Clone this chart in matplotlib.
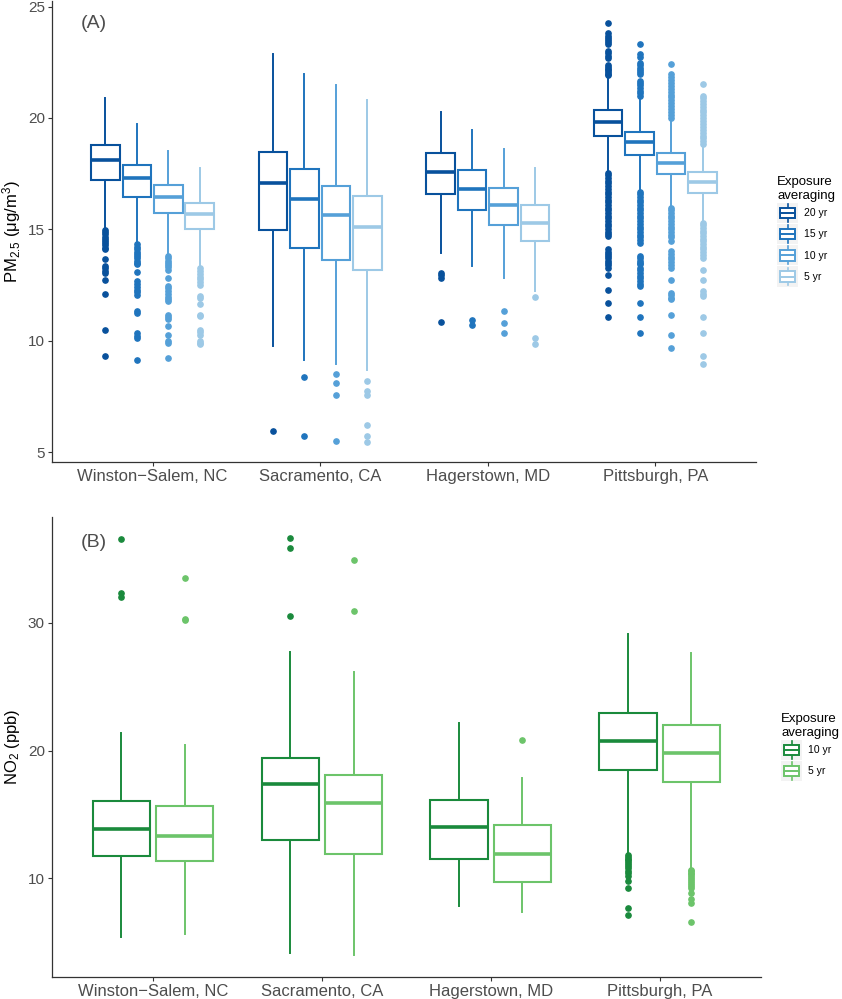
import matplotlib
matplotlib.use("Agg")
import matplotlib.pyplot as plt
from matplotlib.patches import Patch, Rectangle
from matplotlib.lines import Line2D
from matplotlib.legend_handler import HandlerBase

plt.rcParams['font.family'] = ['Liberation Sans', 'DejaVu Sans']
plt.rcParams['mathtext.fontset'] = 'custom'
plt.rcParams['mathtext.rm'] = 'Liberation Sans'
plt.rcParams['mathtext.it'] = 'Liberation Sans:italic'

# ---- data ----
cities = ["Winston\u2212Salem, NC", "Sacramento, CA", "Hagerstown, MD", "Pittsburgh, PA"]

# panel A: PM2.5, rows = 20 yr, 15 yr, 10 yr, 5 yr ; columns = cities
pm_periods = ["20 yr", "15 yr", "10 yr", "5 yr"]
pm_colors = ["#08519C", "#1F74BD", "#55A0D8", "#9DC9E6"]
pm_whishi = [[20.91, 22.89, 20.27, 21.85],
             [19.72, 21.99, 19.45, 20.95],
             [18.52, 21.48, 18.59, 19.95],
             [17.77, 20.82, 17.77, 18.75]]
pm_q3 = [[18.77, 18.47, 18.44, 20.34],
         [17.87, 17.71, 17.65, 19.39],
         [17.00, 16.96, 16.86, 18.44],
         [16.18, 16.50, 16.09, 17.57]]
pm_med = [[18.13, 17.07, 17.56, 19.84],
          [17.32, 16.35, 16.80, 18.92],
          [16.45, 15.64, 16.09, 17.99],
          [15.67, 15.13, 15.30, 17.13]]
pm_q1 = [[17.23, 14.97, 16.57, 19.19],
         [16.47, 14.18, 15.88, 18.32],
         [15.72, 13.61, 15.19, 17.47],
         [15.00, 13.20, 14.48, 16.65]]
pm_whislo = [[15.10, 9.76, 13.95, 17.60],
             [14.40, 9.13, 13.38, 16.75],
             [13.85, 8.94, 12.81, 16.05],
             [13.30, 8.71, 12.23, 15.35]]
pm_out = [
    [  # 20 yr
        [14.98, 14.88, 14.78, 14.68, 14.58, 14.48, 14.38, 14.28, 14.18, 14.10,
         13.68, 13.35, 13.25, 13.15, 13.05, 12.72, 12.11, 10.49, 9.34],
        [5.97],
        [13.05, 12.95, 12.83, 10.84],
        [21.92, 21.98, 22.06, 22.14, 22.22, 22.30, 22.38, 22.70, 22.80, 22.90, 23.00,
         23.31, 23.40, 23.50, 23.60, 23.70, 23.80, 24.25,
         17.54, 17.42, 17.30, 17.18, 17.06, 16.94, 16.82, 16.70, 16.58, 16.46, 16.34,
         16.22, 16.10, 15.98, 15.86, 15.74, 15.62, 15.50, 15.38, 15.26, 15.14, 15.02,
         14.90, 14.80, 14.70, 14.10, 14.00, 13.90, 13.80, 13.70, 13.60, 13.50, 13.40,
         13.28, 12.95, 12.28, 11.71, 11.06],
    ],
    [  # 15 yr
        [14.33, 14.22, 14.10, 14.00, 13.90, 13.80, 13.70, 13.60, 13.50, 13.43, 13.10,
         12.68, 12.55, 12.42, 12.30, 12.18, 12.05, 11.36, 11.26, 10.33, 10.23, 10.13, 9.15],
        [8.37, 5.73],
        [10.93, 10.70],
        [20.98, 21.10, 21.22, 21.34, 21.46, 21.58, 21.66, 21.96, 22.06, 22.16, 22.26,
         22.36, 22.46, 22.72, 22.86, 23.34,
         16.69, 16.57, 16.45, 16.33, 16.21, 16.09, 15.97, 15.85, 15.73, 15.61, 15.49,
         15.37, 15.25, 15.13, 15.01, 14.89, 14.77, 14.65, 14.52, 14.40,
         13.80, 13.70, 13.60, 13.50, 13.43, 13.28, 13.16, 13.04, 12.92, 12.80, 12.68,
         12.56, 12.46, 11.69, 11.06, 10.36],
    ],
    [  # 10 yr
        [13.80, 13.70, 13.60, 13.50, 13.40, 13.30, 13.20, 12.83, 12.46, 12.35, 12.22,
         12.10, 11.98, 11.86, 11.78, 11.18, 11.06, 10.96, 10.66, 10.28, 9.98, 9.90, 9.22],
        [8.53, 8.11, 7.57, 5.52],
        [11.32, 10.81, 10.36],
        [20.01, 20.14, 20.27, 20.40, 20.53, 20.66, 20.79, 20.92, 21.05, 21.18, 21.31,
         21.44, 21.57, 21.70, 21.83, 21.96, 22.41,
         15.97, 15.85, 15.73, 15.61, 15.49, 15.37, 15.25, 15.13, 15.01, 14.89, 14.77,
         14.65, 14.48, 14.03, 13.90, 13.78, 13.66, 13.54, 13.42, 13.28, 12.71, 12.16,
         12.05, 11.94, 11.86, 11.18, 10.28, 9.66],
    ],
    [  # 5 yr
        [13.25, 13.13, 13.00, 12.88, 12.76, 12.63, 12.50, 12.00, 11.93, 11.63, 11.18,
         11.10, 10.50, 10.40, 10.28, 9.98, 9.90, 9.84],
        [8.19, 7.77, 7.56, 6.23, 5.75, 5.45],
        [11.98, 10.12, 9.87],
        [18.82, 18.95, 19.08, 19.21, 19.34, 19.47, 19.60, 19.73, 19.86, 19.99, 20.12,
         20.25, 20.38, 20.51, 20.64, 20.77, 20.90, 20.99, 21.51,
         15.30, 15.18, 15.06, 14.94, 14.82, 14.70, 14.58, 14.46, 14.34, 14.22, 14.10,
         13.98, 13.86, 13.73, 13.20, 12.71, 12.23, 12.10, 12.00, 11.06, 10.36, 9.31, 8.98],
    ],
]

# panel B: NO2, rows = 10 yr, 5 yr
no2_periods = ["10 yr", "5 yr"]
no2_colors = ["#1A8A3C", "#6CC46A"]
no2_whishi = [[21.41, 27.73, 22.19, 29.11],
              [20.42, 26.12, 17.84, 27.60]]
no2_q3 = [[16.02, 19.43, 16.15, 22.97],
          [15.63, 18.10, 14.14, 22.03]]
no2_med = [[13.85, 17.37, 13.98, 20.76],
           [13.33, 15.89, 11.90, 19.84]]
no2_q1 = [[11.77, 13.00, 11.54, 18.44],
          [11.33, 11.90, 9.69, 17.53]]
no2_whislo = [[5.42, 4.17, 7.81, 11.90],
              [5.68, 3.98, 7.37, 10.72]]
no2_out = [
    [[36.54, 32.34, 32.03], [36.67, 35.83, 30.55], [],
     [11.85, 11.70, 11.55, 11.40, 11.25, 11.10, 10.95, 10.80, 10.60, 10.40, 10.16,
      9.77, 9.24, 7.68, 7.16]],
    [[33.52, 30.30, 30.22], [34.90, 30.94], [20.86],
     [10.68, 10.55, 10.42, 10.30, 10.15, 10.00, 9.85, 9.70, 9.55, 9.40, 9.24,
      8.85, 8.39, 8.07, 6.56]],
]


class BoxKeyHandler(HandlerBase):
    """Small ggplot-like boxplot glyph for the legend keys."""
    def create_artists(self, legend, orig_handle, xdescent, ydescent,
                       width, height, fontsize, trans):
        c = orig_handle.get_edgecolor()
        x0, y0 = -xdescent, -ydescent
        bg = Rectangle((x0, y0), width, height, facecolor="#F3F3F3",
                       edgecolor="none", transform=trans)
        xm = x0 + width / 2
        whisk = Line2D([xm, xm], [y0 + 0.06 * height, y0 + 0.94 * height],
                       color=c, lw=1.2, transform=trans)
        box = Rectangle((x0 + 0.14 * width, y0 + 0.24 * height), 0.72 * width,
                        0.52 * height, facecolor="white", edgecolor=c, lw=1.4,
                        transform=trans)
        med = Line2D([x0 + 0.14 * width, x0 + 0.86 * width],
                     [y0 + 0.5 * height] * 2, color=c, lw=1.4, transform=trans)
        return [bg, whisk, box, med]


def draw_panel(ax, whislo, q1, med, q3, whishi, out, colors, step, width):
    n = len(colors)
    for k in range(n):
        stats = []
        for j in range(len(cities)):
            stats.append(dict(whislo=whislo[k][j], q1=q1[k][j], med=med[k][j],
                              q3=q3[k][j], whishi=whishi[k][j], fliers=out[k][j]))
        pos = [j + 1 + (k - (n - 1) / 2) * step for j in range(len(cities))]
        c = colors[k]
        ax.bxp(stats, positions=pos, widths=width, showcaps=False, patch_artist=True,
               boxprops=dict(facecolor="white", edgecolor=c, linewidth=1.5),
               whiskerprops=dict(color=c, linewidth=1.4),
               medianprops=dict(color=c, linewidth=2.6, solid_capstyle="butt"),
               flierprops=dict(marker="o", markerfacecolor=c, markeredgecolor=c,
                               markersize=3.8, linestyle="none"))
    ax.set_xlim(0.4, 4.6)
    ax.set_xticks(range(1, len(cities) + 1))
    ax.set_xticklabels(cities, fontsize=12, color="#4D4D4D")
    ax.tick_params(axis="y", labelsize=11, labelcolor="#4D4D4D")
    ax.tick_params(length=3, width=0.8, color="#333333", pad=2)
    for s in ["top", "right"]:
        ax.spines[s].set_visible(False)
    for s in ["left", "bottom"]:
        ax.spines[s].set_color("#333333")
        ax.spines[s].set_linewidth(0.9)


fig = plt.figure(figsize=(8.42, 9.99), dpi=100)

axA = fig.add_axes([0.0618, 0.5375, 0.836, 0.4615])
draw_panel(axA, pm_whislo, pm_q1, pm_med, pm_q3, pm_whishi, pm_out, pm_colors, 0.1875, 0.17)
axA.set_ylim(4.56, 25.25)
axA.set_yticks([5, 10, 15, 20, 25])
axA.set_ylabel("PM$_{2.5}$ (\u03bcg/m$^{3}$)", fontsize=12, labelpad=4)
axA.text(0.65, 24.25, "(A)", fontsize=14, color="#4D4D4D", ha="center", va="center")

axB = fig.add_axes([0.0614, 0.0223, 0.8424, 0.4605])
draw_panel(axB, no2_whislo, no2_q1, no2_med, no2_q3, no2_whishi, no2_out, no2_colors, 0.375, 0.34)
axB.set_ylim(2.3, 38.3)
axB.set_yticks([10, 20, 30])
axB.set_ylabel("NO$_{2}$ (ppb)", fontsize=12, labelpad=4)
axB.text(0.65, 36.3, "(B)", fontsize=14, color="#4D4D4D", ha="center", va="center")

for ax, periods, colors, anchor in [(axA, pm_periods, pm_colors, (0.9169, 0.8290)),
                                    (axB, no2_periods, no2_colors, (0.9216, 0.2915))]:
    handles = [Patch(edgecolor=c, facecolor="white") for c in colors]
    fig.legend(handles, periods, handler_map={Patch: BoxKeyHandler()},
               title="Exposure\naveraging", title_fontsize=9.5, fontsize=7.5,
               loc="upper left", bbox_to_anchor=anchor, bbox_transform=fig.transFigure,
               frameon=False, borderpad=0, handlelength=2.0, handleheight=2.6,
               labelspacing=0.1, handletextpad=0.6, alignment="left")

fig.savefig("out.png", dpi=100)
